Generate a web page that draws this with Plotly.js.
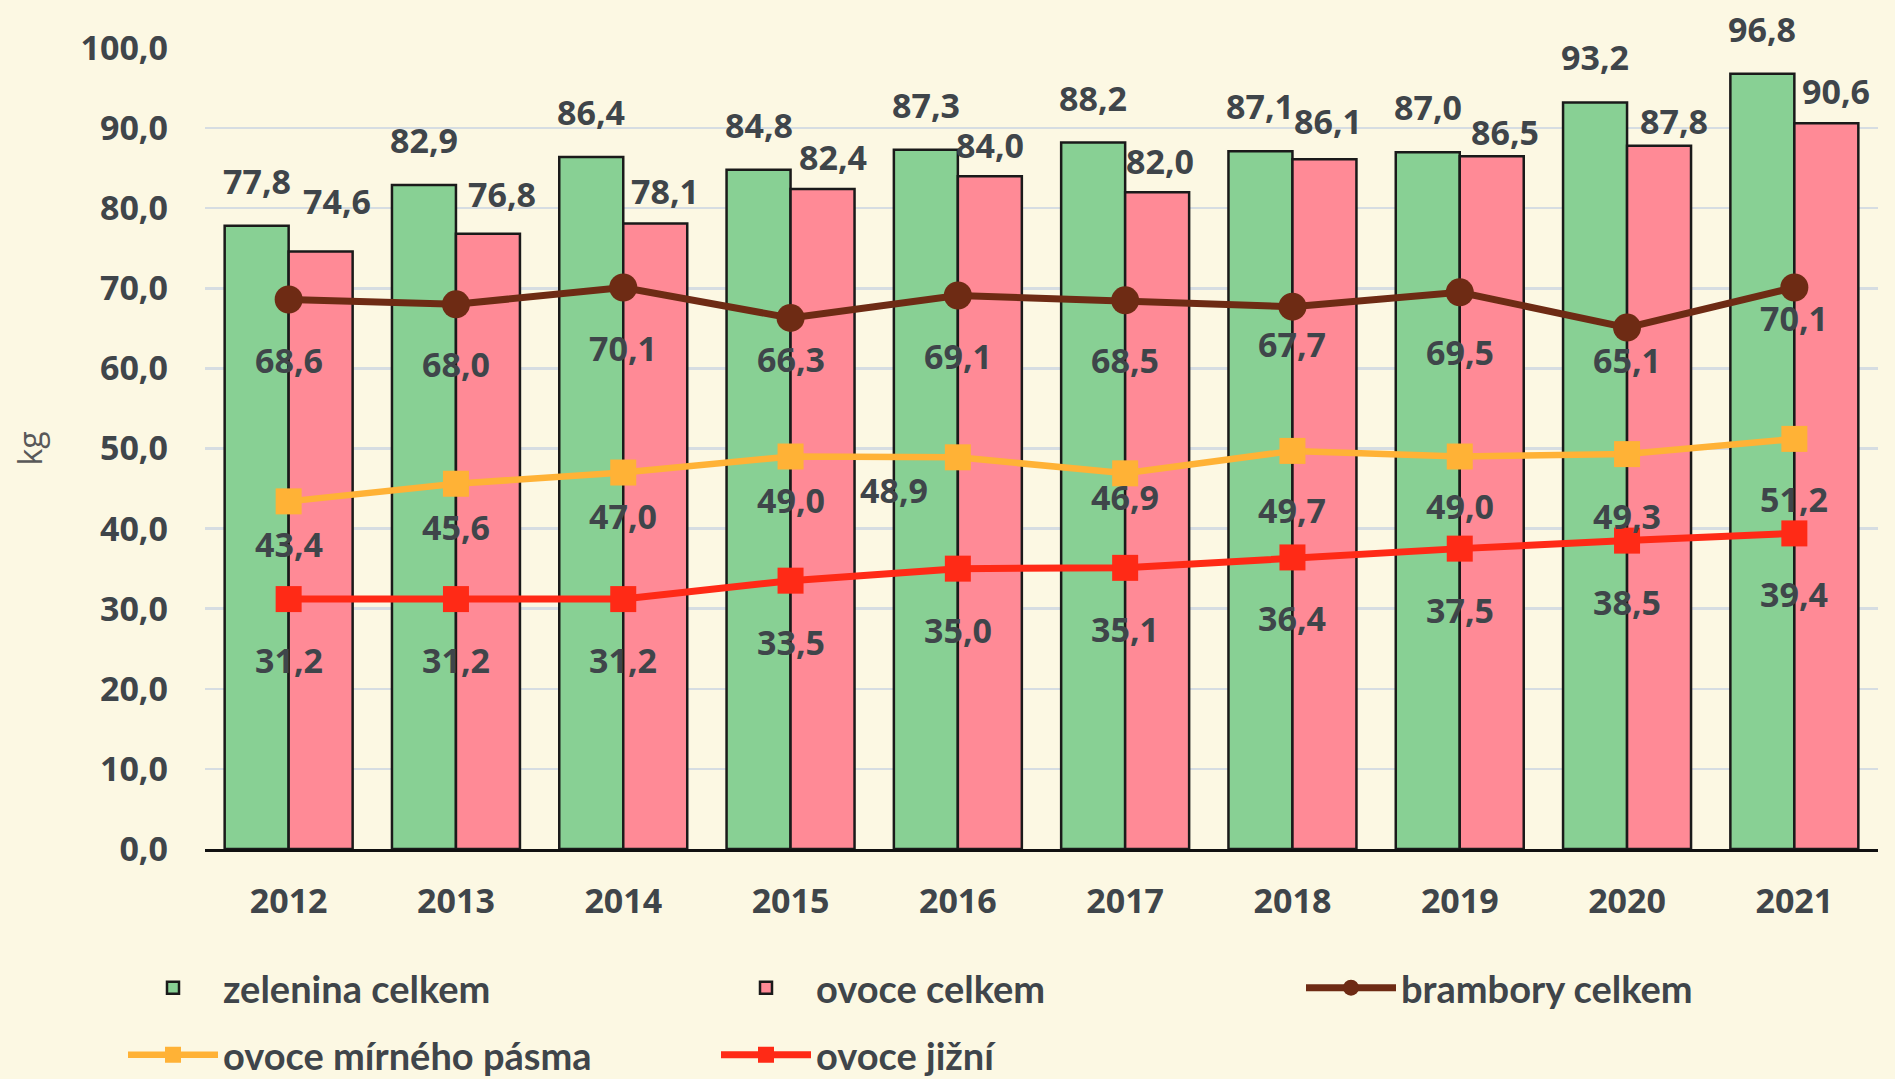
<!DOCTYPE html>
<html>
<head>
<meta charset="utf-8">
<script src="https://cdn.plot.ly/plotly-3.0.1.min.js"></script>
<style>
  html, body { margin: 0; padding: 0; background: #fcf8e3; }
  #chart { width: 1895px; height: 1079px; }
</style>
</head>
<body>
<div id="chart"></div>
<script>
// ---- data ----
const years = ['2012', '2013', '2014', '2015', '2016', '2017', '2018', '2019', '2020', '2021'];
const zeleninaCelkem = [77.8, 82.9, 86.4, 84.8, 87.3, 88.2, 87.1, 87.0, 93.2, 96.8];
const ovoceCelkem = [74.6, 76.8, 78.1, 82.4, 84.0, 82.0, 86.1, 86.5, 87.8, 90.6];
const bramboryCelkem = [68.6, 68.0, 70.1, 66.3, 69.1, 68.5, 67.7, 69.5, 65.1, 70.1];
const ovoceMirnehoPasma = [43.4, 45.6, 47.0, 49.0, 48.9, 46.9, 49.7, 49.0, 49.3, 51.2];
const ovoceJizni = [31.2, 31.2, 31.2, 33.5, 35.0, 35.1, 36.4, 37.5, 38.5, 39.4];
const seriesNames = ['zelenina celkem', 'ovoce celkem', 'brambory celkem', 'ovoce mírného pásma', 'ovoce jižní'];
const yTickValues = [0, 10, 20, 30, 40, 50, 60, 70, 80, 90, 100];

// ---- styles ----
const TXT = '#3f454a';
const BG = '#fcf8e3';
const labelFont = { family: 'Open Sans', size: 34, color: TXT, weight: 'bold' };
const legendFont = { family: 'Lato', size: 38, color: TXT, weight: 'bold' };
const fmt = v => v.toFixed(1).replace('.', ',');

const traces = [
  { type: 'bar', name: seriesNames[0], x: years, y: zeleninaCelkem, legend: 'legend',
    marker: { color: '#88d094', line: { color: '#1a1a1a', width: 2.5 } }, hoverinfo: 'skip' },
  { type: 'bar', name: seriesNames[1], x: years, y: ovoceCelkem, legend: 'legend',
    marker: { color: '#ff8a96', line: { color: '#1a1a1a', width: 2.5 } }, hoverinfo: 'skip' },
  { type: 'scatter', mode: 'lines+markers', name: seriesNames[2], x: years, y: bramboryCelkem, legend: 'legend3',
    line: { color: '#6e2b14', width: 7 }, marker: { symbol: 'circle', size: 28, color: '#6e2b14' }, hoverinfo: 'skip' },
  { type: 'scatter', mode: 'lines+markers', name: seriesNames[3], x: years, y: ovoceMirnehoPasma, legend: 'legend2',
    line: { color: '#ffb236', width: 6.5 }, marker: { symbol: 'square', size: 26, color: '#ffb236' }, hoverinfo: 'skip' },
  { type: 'scatter', mode: 'lines+markers', name: seriesNames[4], x: years, y: ovoceJizni, legend: 'legend2',
    line: { color: '#ff2a16', width: 7 }, marker: { symbol: 'square', size: 26, color: '#ff2a16' }, hoverinfo: 'skip' }
];

// ---- data-label placement (pixel offsets from the point, as in the reference) ----
const zeleninaLabelShift = { dx: -32, dy: 45, exceptions: {} };
const ovoceLabelShift = { dx: 42, dy: 32, exceptions: { '2012': [48, 50], '2013': [46, 40], '2016': [32, 31], '2017': [35, 31], '2018': [36, 38], '2020': [47, 25], '2019': [45, 24] } };
const bramboryLabelShift = { dx: 0, dy: -60, exceptions: { '2015': [0, -41], '2018': [0, -37], '2020': [0, -32], '2021': [0, -30] } };
const mirneLabelShift = { dx: 0, dy: -43, exceptions: { '2016': [-64, -33], '2017': [0, -24], '2018': [0, -59], '2019': [0, -49], '2020': [0, -62], '2021': [0, -60] } };
const jizniLabelShift = { dx: 0, dy: -61, exceptions: {} };

// ---- data labels (annotations built from the arrays; category axis uses serial index) ----
const annotations = [];
function addLabels(values, shift) {
  values.forEach((v, i) => {
    const ex = shift.exceptions[years[i]];
    annotations.push({ x: i, y: v, xref: 'x', yref: 'y', text: fmt(v), showarrow: false,
      xanchor: 'center', yanchor: 'middle',
      xshift: ex ? ex[0] : shift.dx, yshift: ex ? ex[1] : shift.dy, font: labelFont });
  });
}
addLabels(zeleninaCelkem, zeleninaLabelShift);
addLabels(ovoceCelkem, ovoceLabelShift);
addLabels(bramboryCelkem, bramboryLabelShift);
addLabels(ovoceMirnehoPasma, mirneLabelShift);
addLabels(ovoceJizni, jizniLabelShift);

const legendCommon = {
  orientation: 'h', xref: 'container', yref: 'container', xanchor: 'left', yanchor: 'middle',
  font: legendFont, itemwidth: 90, entrywidth: 488, entrywidthmode: 'pixels',
  bgcolor: 'rgba(0,0,0,0)', borderwidth: 0, traceorder: 'normal', itemclick: false, itemdoubleclick: false
};

const layout = {
  width: 1895, height: 1079,
  paper_bgcolor: BG, plot_bgcolor: BG,
  margin: { l: 205, r: 17, t: 48, b: 230, autoexpand: false },
  separators: ', ',
  barmode: 'group', bargap: 0.235, bargroupgap: 0,
  showlegend: true,
  legend: Object.assign({}, legendCommon, { x: 123 / 1895, y: (1079 - 988) / 1079 }),
  legend3: Object.assign({}, legendCommon, { x: 1301 / 1895, y: (1079 - 988) / 1079 }),
  legend2: Object.assign({}, legendCommon, { x: 123 / 1895, y: (1079 - 1055) / 1079 }),
  xaxis: {
    type: 'category', range: [-0.5, years.length - 0.5], showline: true, linecolor: '#111', linewidth: 2.5,
    showgrid: false, ticks: '', tickfont: labelFont, ticklabelstandoff: 21, fixedrange: true
  },
  yaxis: {
    range: [0, 100], tickvals: yTickValues, tickformat: '.1f', showgrid: true,
    gridcolor: '#d6dde2', gridwidth: 2.5, zeroline: false, showline: false, ticks: '',
    tickfont: labelFont, ticklabelstandoff: 36, fixedrange: true,
    title: { text: 'kg', font: { family: 'Open Sans', size: 32, color: '#595959' }, standoff: 28 }
  },
  annotations: annotations
};

Plotly.newPlot('chart', traces, layout, { displayModeBar: false, staticPlot: true });
</script>
</body>
</html>
